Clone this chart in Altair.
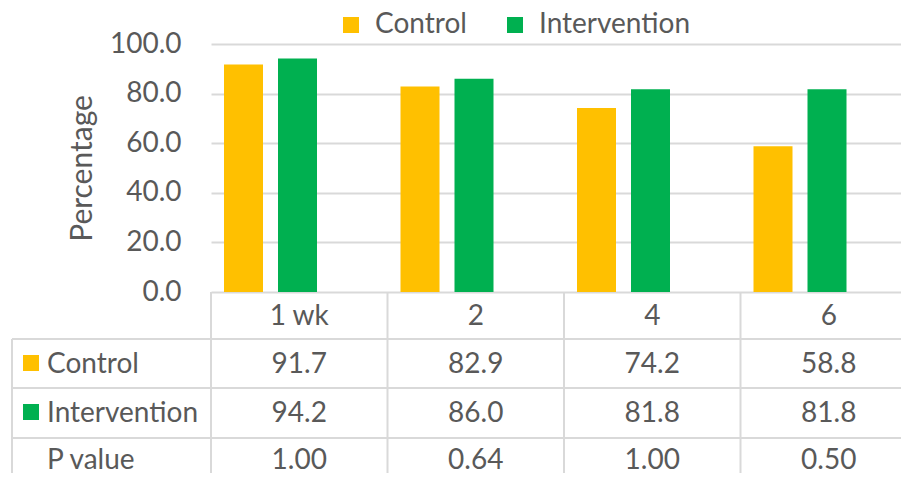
import altair as alt
import pandas as pd

# ---- data ----
categories = ["1 wk", "2", "4", "6"]
control = [91.7, 82.9, 74.2, 58.8]
intervention = [94.2, 86.0, 81.8, 81.8]
p_value = [1.00, 0.64, 1.00, 0.50]
series = ["Control", "Intervention"]
row_labels = ["Control", "Intervention", "P value"]
colors = ["#FFC000", "#00B050"]

FONT = "Lato"
TXT = "#595959"
LINE = "#D9D9D9"
FS = 28
W, H = 706, 248
STEP = W / len(categories)

bars_df = pd.DataFrame({
    "cat": categories * 2,
    "series": [series[0]] * len(categories) + [series[1]] * len(categories),
    "value": control + intervention,
})
table_df = pd.DataFrame({"cat": categories, "control": control,
                         "intervention": intervention, "p": p_value})
one = pd.DataFrame({"k": [0]})

xenc = alt.X("cat:N",
             scale=alt.Scale(domain=categories, paddingInner=0, paddingOuter=0),
             axis=None)
color = alt.Color("series:N", scale=alt.Scale(domain=series, range=colors),
                  legend=alt.Legend(orient="none", legendX=126, legendY=-33,
                                    direction="horizontal", title=None,
                                    symbolType="square", symbolSize=256,
                                    symbolStrokeWidth=0,
                                    labelFont=FONT, labelFontSize=FS,
                                    labelColor=TXT, labelOffset=10,
                                    columnPadding=34, padding=0))
yenc = alt.Y("value:Q", scale=alt.Scale(domain=[0, 100]),
             axis=alt.Axis(values=[0, 20, 40, 60, 80, 100], format=".1f",
                           title="Percentage", domain=False, ticks=False,
                           labelPadding=30, grid=True,
                           gridColor=LINE, gridWidth=2,
                           labelFont=FONT, labelFontSize=FS, labelColor=TXT,
                           titleFont=FONT, titleFontSize=30, titleColor=TXT,
                           titleFontWeight="normal", titlePadding=12))

# grouped bars: three slots per category (third slot = P value, not drawn)
layers = []
for s, off in zip(series, [-55.75, -1.75]):
    layers.append(alt.Chart(bars_df).transform_filter(
        alt.datum.series == s).mark_bar(width=39, xOffset=off).encode(
        x=xenc, y=yenc, color=color))

# data-table grid
for yy in [295, 344, 394]:
    layers.append(alt.Chart(one).mark_rule(color=LINE, strokeWidth=2).encode(
        x=alt.value(-199), x2=alt.value(W + 4), y=alt.value(yy)))
layers.append(alt.Chart(table_df).mark_rule(color=LINE, strokeWidth=2,
                                            xOffset=-STEP / 2).encode(
    x=xenc, y=alt.value(H), y2=alt.value(H + 220)))
layers.append(alt.Chart(one).mark_rule(color=LINE, strokeWidth=2).encode(
    x=alt.value(-199), y=alt.value(295), y2=alt.value(H + 220)))

txt = dict(font=FONT, fontSize=FS, color=TXT, baseline="alphabetic")
layers.append(alt.Chart(table_df).mark_text(**txt).encode(
    x=xenc, y=alt.value(281), text="cat:N"))
layers.append(alt.Chart(table_df).mark_text(**txt).encode(
    x=xenc, y=alt.value(329), text=alt.Text("control:Q", format=".1f")))
layers.append(alt.Chart(table_df).mark_text(**txt).encode(
    x=xenc, y=alt.value(378), text=alt.Text("intervention:Q", format=".1f")))
layers.append(alt.Chart(table_df).mark_text(**txt).encode(
    x=xenc, y=alt.value(425), text=alt.Text("p:Q", format=".2f")))

for lab, yy in zip(row_labels, [329, 378, 425]):
    layers.append(alt.Chart(pd.DataFrame({"label": [lab]})).mark_text(
        align="left", **txt).encode(x=alt.value(-164), y=alt.value(yy), text="label:N"))

for c, yy in zip(colors, [319, 368]):
    layers.append(alt.Chart(one).mark_square(
        size=256, opacity=1, filled=True, color=c).encode(
        x=alt.value(-180), y=alt.value(yy)))

chart = alt.layer(*layers).properties(
    width=W, height=H,
    autosize=alt.AutoSizeParams(type="none"),
    padding={"left": 203, "top": 36, "right": -16, "bottom": 181},
    background="white",
).configure_view(stroke=None)

chart.save("out.html", embed_options={"renderer": "svg", "actions": False})
